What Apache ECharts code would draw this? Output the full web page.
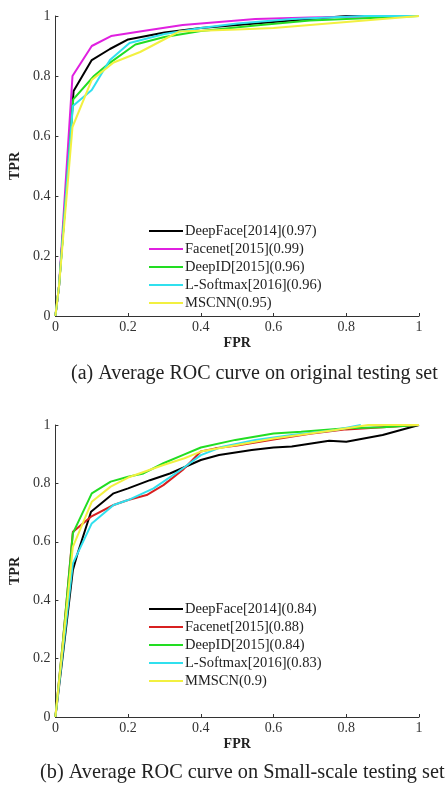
<!DOCTYPE html>
<html>
<head>
<meta charset="utf-8">
<script src="https://cdn.jsdelivr.net/npm/echarts@6/dist/echarts.min.js"></script>
<style>
  html, body { margin: 0; padding: 0; background: #fff; }
  #roc-chart { width: 446px; height: 786px; }
</style>
</head>
<body>
<div id="roc-chart"></div>
<script>
// Axis ticks (both axes, both panels)
const tickValues = [0, 0.2, 0.4, 0.6, 0.8, 1];

// (a) original testing set, [FPR, TPR] points
const namesA = ['DeepFace[2014](0.97)', 'Facenet[2015](0.99)', 'DeepID[2015](0.96)', 'L-Softmax[2016](0.96)', 'MSCNN(0.95)'];
const deepFaceA = [[0, 0], [0.01, 0.1], [0.05, 0.75], [0.1, 0.853], [0.15, 0.89], [0.2, 0.922], [0.3, 0.945], [0.4, 0.96], [0.5, 0.97], [0.6, 0.98], [0.7, 0.99], [0.8, 1], [1, 1]];
const facenetA = [[0, 0], [0.01, 0.1], [0.047, 0.8], [0.1, 0.9], [0.153, 0.933], [0.25, 0.952], [0.35, 0.97], [0.45, 0.98], [0.55, 0.99], [0.7, 0.995], [0.95, 1], [1, 1]];
const deepIdA = [[0, 0], [0.01, 0.1], [0.049, 0.722], [0.106, 0.8], [0.142, 0.837], [0.22, 0.905], [0.3, 0.93], [0.4, 0.95], [0.55, 0.968], [0.7, 0.985], [0.8, 0.99], [1, 1]];
const lSoftmaxA = [[0, 0], [0.01, 0.1], [0.048, 0.7], [0.1, 0.753], [0.133, 0.82], [0.15, 0.853], [0.204, 0.91], [0.3, 0.94], [0.4, 0.96], [0.5, 0.975], [0.65, 0.99], [0.85, 1], [1, 1]];
const mscnnA = [[0, 0], [0.01, 0.1], [0.047, 0.63], [0.1, 0.787], [0.16, 0.845], [0.233, 0.88], [0.296, 0.92], [0.34, 0.948], [0.5, 0.955], [0.6, 0.96], [0.8, 0.98], [0.9, 0.99], [1, 1]];

// (b) small-scale testing set
const namesB = ['DeepFace[2014](0.84)', 'Facenet[2015](0.88)', 'DeepID[2015](0.84)', 'L-Softmax[2016](0.83)', 'MMSCN(0.9)'];
const deepFaceB = [[0, 0], [0.021, 0.217], [0.048, 0.503], [0.061, 0.56], [0.098, 0.703], [0.16, 0.766], [0.2, 0.783], [0.26, 0.811], [0.315, 0.834], [0.4, 0.88], [0.45, 0.897], [0.54, 0.914], [0.6, 0.923], [0.65, 0.926], [0.753, 0.946], [0.8, 0.943], [0.9, 0.966], [1, 1]];
const facenetB = [[0, 0], [0.02, 0.25], [0.048, 0.634], [0.098, 0.686], [0.16, 0.726], [0.2, 0.743], [0.251, 0.76], [0.297, 0.794], [0.35, 0.846], [0.4, 0.909], [0.44, 0.92], [0.5, 0.93], [0.6, 0.95], [0.7, 0.97], [0.8, 0.985], [1, 1]];
const deepIdB = [[0, 0], [0.02, 0.25], [0.048, 0.629], [0.1, 0.766], [0.152, 0.806], [0.2, 0.823], [0.242, 0.834], [0.297, 0.869], [0.35, 0.897], [0.4, 0.923], [0.495, 0.949], [0.6, 0.971], [0.676, 0.977], [0.8, 0.989], [0.9, 0.992], [1, 1]];
const lSoftmaxB = [[0, 0], [0.02, 0.22], [0.048, 0.526], [0.1, 0.663], [0.16, 0.726], [0.2, 0.743], [0.27, 0.783], [0.35, 0.851], [0.4, 0.897], [0.46, 0.926], [0.55, 0.949], [0.65, 0.966], [0.77, 0.983], [0.84, 1]];
const mmscnB = [[0, 0], [0.02, 0.24], [0.048, 0.583], [0.1, 0.737], [0.152, 0.789], [0.2, 0.82], [0.297, 0.863], [0.355, 0.886], [0.4, 0.909], [0.495, 0.931], [0.6, 0.954], [0.77, 0.983], [0.86, 1], [1, 1]];

const colorsA = ['#000000', '#e020e0', '#22dd22', '#30e0ee', '#f2f040'];
const colorsB = ['#000000', '#d82020', '#22dd22', '#30e0ee', '#f2f040'];

const serif = 'Liberation Serif';

const chartDom = document.getElementById('roc-chart');
const myChart = echarts.init(chartDom);

function makeX(gridIndex) {
  return {
    type: 'value', gridIndex: gridIndex, min: 0, max: 1, interval: 0.2,
    name: 'FPR', nameLocation: 'middle', nameGap: 20,
    nameTextStyle: { fontFamily: serif, fontSize: 14, fontWeight: 'bold', color: '#222' },
    axisLine: { show: true, lineStyle: { color: '#333', width: 1 } },
    axisTick: { show: true, inside: true, length: 3, lineStyle: { color: '#333' } },
    axisLabel: { fontFamily: serif, fontSize: 14, color: '#333', margin: 4, formatter: v => String(+v.toFixed(1)) },
    splitLine: { show: false }
  };
}
function makeY(gridIndex) {
  return {
    type: 'value', gridIndex: gridIndex, min: 0, max: 1, interval: 0.2,
    name: 'TPR', nameLocation: 'middle', nameGap: 27, nameRotate: 90,
    nameTextStyle: { fontFamily: serif, fontSize: 14, fontWeight: 'bold', color: '#222' },
    axisLine: { show: true, lineStyle: { color: '#333', width: 1 } },
    axisTick: { show: true, inside: true, length: 3, lineStyle: { color: '#333' } },
    axisLabel: { fontFamily: serif, fontSize: 14, color: '#333', margin: 5, formatter: v => String(+v.toFixed(1)) },
    splitLine: { show: false }
  };
}
function makeSeries(names, datas, colors, idx) {
  return names.map((n, i) => ({
    name: n, type: 'line', xAxisIndex: idx, yAxisIndex: idx,
    data: datas[i], showSymbol: false, symbol: 'none',
    lineStyle: { width: 2, color: colors[i] }, itemStyle: { color: colors[i] },
    animation: false
  }));
}
function makeLegend(names, top) {
  return {
    data: names.map(n => ({ name: n, icon: 'rect' })),
    orient: 'vertical', left: 144, top: top,
    itemWidth: 34, itemHeight: 2, itemGap: 2,
    textStyle: { fontFamily: serif, fontSize: 14.5, lineHeight: 16, color: '#222', padding: [0, 0, 0, -3] }
  };
}

const option = {
  backgroundColor: '#fff',
  title: [
    { text: '(a) Average ROC curve on original testing set', left: 66, top: 359,
      textStyle: { fontFamily: serif, fontSize: 20, fontWeight: 'normal', color: '#222' } },
    { text: '(b) Average ROC curve on Small-scale testing set', left: 35, top: 758,
      textStyle: { fontFamily: serif, fontSize: 20.3, fontWeight: 'normal', color: '#222' } }
  ],
  grid: [
    { left: 51, top: 16, width: 368, height: 300 },
    { left: 51, top: 425, width: 368, height: 292 }
  ],
  xAxis: [makeX(0), makeX(1)],
  yAxis: [makeY(0), makeY(1)],
  legend: [makeLegend(namesA, 218), makeLegend(namesB, 596)],
  series: [
    ...makeSeries(namesA, [deepFaceA, facenetA, deepIdA, lSoftmaxA, mscnnA], colorsA, 0),
    ...makeSeries(namesB, [deepFaceB, facenetB, deepIdB, lSoftmaxB, mmscnB], colorsB, 1)
  ]
};

myChart.setOption(option);

window.addEventListener('resize', () => {
  myChart.resize();
});
</script>
</body>
</html>
